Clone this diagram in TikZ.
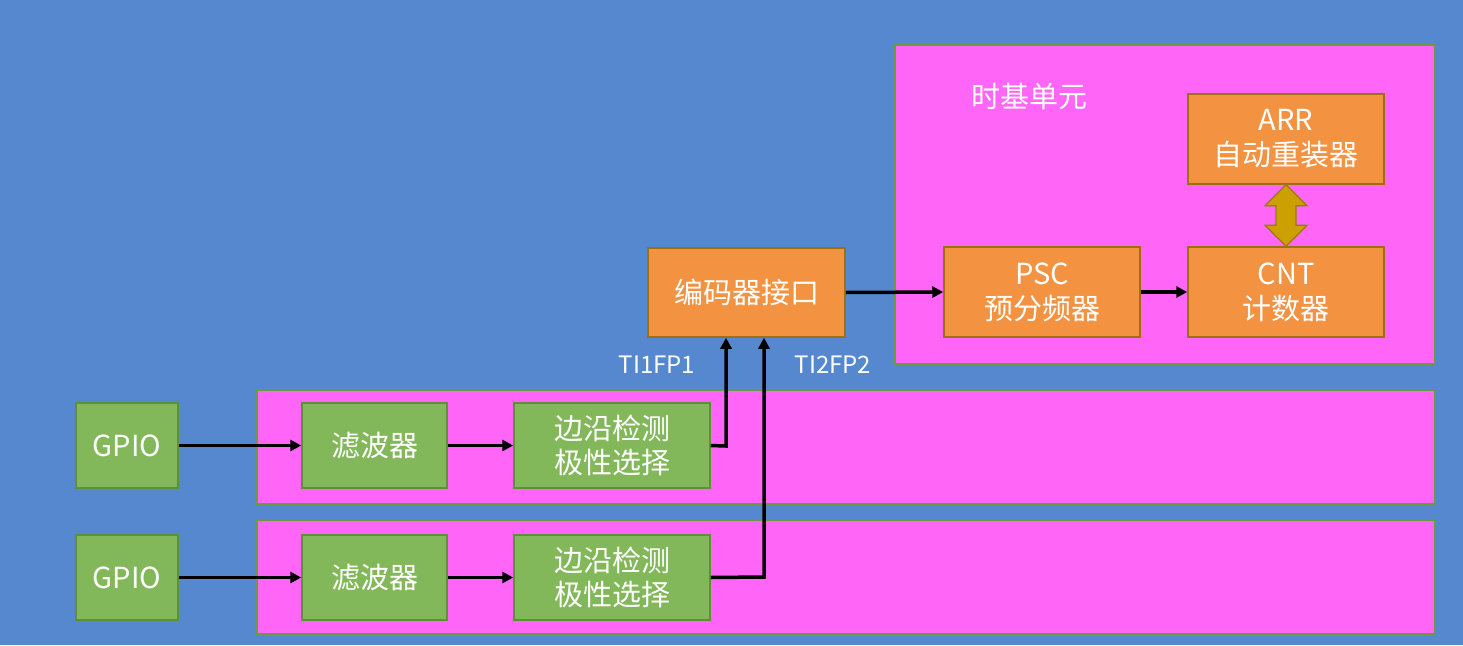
\documentclass[tikz,border=0pt]{standalone}
\usepackage{fontspec}
\setmainfont{Noto Sans CJK SC}
\usetikzlibrary{arrows.meta,calc}
\definecolor{bgblue}{HTML}{5588CE}
\definecolor{pinkf}{HTML}{FF66F8}
\definecolor{pinkd}{HTML}{6A9A45}
\definecolor{greenf}{HTML}{82B85A}
\definecolor{greend}{HTML}{5E9038}
\definecolor{orangef}{HTML}{F39240}
\definecolor{oranged}{HTML}{A07010}
\definecolor{goldf}{HTML}{CCA000}
\definecolor{goldd}{HTML}{9A7A10}
\tikzset{
  panel/.style={draw=pinkd,fill=pinkf,line width=1.5pt},
  gbox/.style={draw=greend,fill=greenf,line width=1.5pt,text=white,font=\fontsize{29}{34}\selectfont,align=center,inner sep=0pt},
  obox/.style={draw=oranged,fill=orangef,line width=1.5pt,text=white,font=\fontsize{29}{35}\selectfont,align=center,inner sep=0pt},
  conn/.style={line width=3.5pt,-{Triangle[length=11pt,width=11pt]}},
  lbl/.style={text=white,font=\fontsize{24}{28}\selectfont,inner sep=0pt}
}
\begin{document}
\begin{tikzpicture}[x=1pt,y=-1pt]
\fill[bgblue] (0,0) rectangle (1463,645);
\useasboundingbox (0,0) rectangle (1463,645);
% panels
\draw[panel] (895,45) rectangle (1435,364);
\draw[panel] (257,390) rectangle (1435,504);
\draw[panel] (257,520) rectangle (1435,634);
\node[lbl,font=\fontsize{29}{32}\selectfont] (tb) at (1029,96) {时基单元};
% time base boxes
\node[obox,minimum width=196pt,minimum height=90pt] (arr) at (1286,139) {ARR\\自动重装器};
\node[obox,minimum width=196pt,minimum height=90pt] (cnt) at (1286,292) {CNT\\计数器};
\node[obox,minimum width=196pt,minimum height=90pt] (psc) at (1042,292) {PSC\\预分频器};
\node[obox,minimum width=197pt,minimum height=89pt] (enc) at (746.5,292.5) {编码器接口};
% row 1
\node[gbox,minimum width=102pt,minimum height=85pt] (g1) at (127,445.5) {GPIO};
\node[gbox,minimum width=145pt,minimum height=85pt] (f1) at (374.5,445.5) {滤波器};
\node[gbox,minimum width=196pt,minimum height=85pt] (e1) at (612,445.5) {边沿检测\\极性选择};
% row 2
\node[gbox,minimum width=102pt,minimum height=85pt] (g2) at (127,577.5) {GPIO};
\node[gbox,minimum width=145pt,minimum height=85pt] (f2) at (374.5,577.5) {滤波器};
\node[gbox,minimum width=196pt,minimum height=85pt] (e2) at (612,577.5) {边沿检测\\极性选择};
% connectors
\draw[conn] (g1.east) -- (f1.west);
\draw[conn] (f1.east) -- (e1.west);
\draw[conn] (g2.east) -- (f2.west);
\draw[conn] (f2.east) -- (e2.west);
\coordinate (c1) at (726,446);
\coordinate (c2) at (764,577);
\draw[conn] (e1.east) -- (c1) -- (c1 |- enc.south);
\draw[conn] (e2.east) -- (c2) -- (c2 |- enc.south);
\draw[conn] (enc.east) -- (psc.west);
\draw[conn] (psc.east) -- (cnt.west);
\node[lbl] (ti1) at (657,365) {TI1FP1};
\node[lbl] (ti2) at (833,365) {TI2FP2};
% double arrow
\coordinate (da1) at (arr.south);
\coordinate (da2) at (cnt.north);
\draw[goldd,fill=goldf,line width=1.2pt]
  (da1) -- ($(da1)+(21,21)$) -- ($(da1)+(10,21)$) -- ($(da2)+(10,-21)$) -- ($(da2)+(21,-21)$)
  -- (da2) -- ($(da2)+(-21,-21)$) -- ($(da2)+(-10,-21)$) -- ($(da1)+(-10,21)$) -- ($(da1)+(-21,21)$) -- cycle;
\end{tikzpicture}
\end{document}
